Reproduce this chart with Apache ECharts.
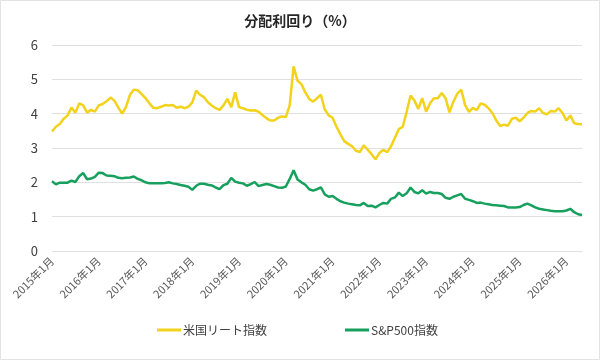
<!DOCTYPE html>
<html>
<head>
<meta charset="utf-8">
<title>分配利回り</title>
<script src="https://cdn.jsdelivr.net/npm/echarts@6/dist/echarts.min.js"></script>
<style>
  html, body { margin: 0; padding: 0; background: #fff; }
  #chart { width: 600px; height: 360px; }
</style>
</head>
<body>
<div id="chart"></div>
<script>
// monthly, 2015年1月 .. 2026年5月
const startYear = 2015
const monthCount = 137
const seriesNames = ['米国リート指数', 'S&P500指数']
const yTicks = [0, 1, 2, 3, 4, 5, 6]

// 米国リート指数 分配利回り (%)
const reitYield = [
  3.48, 3.62, 3.7, 3.85, 3.95, 4.18, 4.03, 4.3, 4.24, 4.03, 4.11, 4.06, // 2015
  4.24, 4.28, 4.36, 4.47, 4.38, 4.18, 4.0, 4.2, 4.55, 4.7, 4.68, 4.57, // 2016
  4.45, 4.3, 4.17, 4.16, 4.2, 4.25, 4.24, 4.25, 4.17, 4.2, 4.16, 4.2, // 2017
  4.33, 4.67, 4.55, 4.48, 4.33, 4.24, 4.16, 4.11, 4.24, 4.43, 4.19, 4.62, // 2018
  4.19, 4.16, 4.11, 4.09, 4.1, 4.06, 3.96, 3.87, 3.8, 3.8, 3.88, 3.92, // 2019
  3.9, 4.25, 5.38, 4.96, 4.86, 4.62, 4.43, 4.35, 4.45, 4.55, 4.12, 3.95, // 2020
  3.88, 3.62, 3.4, 3.2, 3.12, 3.05, 2.92, 2.88, 3.08, 2.95, 2.82, 2.67, // 2021
  2.85, 2.95, 2.88, 3.05, 3.3, 3.55, 3.62, 4.05, 4.53, 4.38, 4.14, 4.45, // 2022
  4.06, 4.3, 4.45, 4.45, 4.6, 4.45, 4.04, 4.35, 4.58, 4.7, 4.25, 4.05, // 2023
  4.17, 4.1, 4.3, 4.26, 4.16, 4.02, 3.8, 3.64, 3.68, 3.65, 3.85, 3.88, // 2024
  3.78, 3.88, 4.02, 4.08, 4.06, 4.16, 4.02, 3.98, 4.08, 4.06, 4.16, 4.02, // 2025
  3.8, 3.95, 3.72, 3.7, 3.69 // 2026
]

// S&P500指数 配当利回り (%)
const spYield = [
  2.03, 1.94, 1.99, 1.99, 1.99, 2.05, 2.01, 2.18, 2.27, 2.09, 2.11, 2.16, // 2015
  2.28, 2.27, 2.2, 2.19, 2.18, 2.13, 2.12, 2.13, 2.14, 2.17, 2.1, 2.06, // 2016
  2.0, 1.97, 1.97, 1.97, 1.97, 1.98, 2.0, 1.97, 1.95, 1.92, 1.9, 1.87, // 2017
  1.78, 1.9, 1.96, 1.96, 1.93, 1.91, 1.85, 1.8, 1.92, 1.96, 2.13, 2.02, // 2018
  1.99, 1.97, 1.9, 1.95, 2.01, 1.89, 1.92, 1.95, 1.93, 1.89, 1.85, 1.84, // 2019
  1.88, 2.1, 2.35, 2.08, 2.0, 1.93, 1.8, 1.76, 1.8, 1.85, 1.65, 1.58, // 2020
  1.6, 1.52, 1.45, 1.41, 1.38, 1.36, 1.34, 1.33, 1.4, 1.31, 1.32, 1.27, // 2021
  1.34, 1.4, 1.38, 1.52, 1.56, 1.7, 1.6, 1.68, 1.85, 1.72, 1.68, 1.77, // 2022
  1.67, 1.72, 1.69, 1.69, 1.66, 1.55, 1.52, 1.58, 1.62, 1.66, 1.52, 1.49, // 2023
  1.45, 1.4, 1.41, 1.38, 1.36, 1.34, 1.33, 1.32, 1.31, 1.27, 1.27, 1.27, // 2024
  1.28, 1.34, 1.38, 1.33, 1.27, 1.23, 1.21, 1.19, 1.17, 1.16, 1.16, 1.16, // 2025
  1.18, 1.23, 1.13, 1.07, 1.05 // 2026
]

// category labels: 2015年1月, 2015年2月, ...
const months = []
for (let i = 0; i < monthCount; i++) {
  months.push((startYear + Math.floor(i / 12)) + '年' + (i % 12 + 1) + '月')
}

const fontFamily = '"Noto Sans CJK JP", "Noto Sans", sans-serif'
const chart = echarts.init(document.getElementById('chart'))

chart.setOption({
  backgroundColor: '#fff',
  animation: false,
  textStyle: { fontFamily: fontFamily },
  title: {
    text: '分配利回り（%）',
    left: 'center',
    top: 9,
    textStyle: {
      fontSize: 14,
      fontWeight: 'bold',
      color: '#262626',
      fontFamily: fontFamily
    }
  },
  // thin frame round the picture
  graphic: [{
    type: 'rect',
    shape: { x: 0.5, y: 0.5, width: 599, height: 359 },
    style: { fill: 'none', stroke: '#e3e3e3', lineWidth: 1 },
    silent: true
  }],
  grid: {
    left: 52,
    right: 18,
    top: 45,
    bottom: 109
  },
  legend: {
    data: seriesNames,
    left: 152,
    top: 319,
    icon: 'rect',
    itemWidth: 24,
    itemHeight: 3,
    itemGap: 78,
    textStyle: { fontSize: 12, color: '#404040', padding: [0, 0, 0, -3] }
  },
  xAxis: {
    type: 'category',
    data: months,
    boundaryGap: false,
    axisLine: { show: false },
    axisTick: { show: false },
    splitLine: { show: false },
    axisLabel: {
      rotate: 45,
      margin: 8,
      fontSize: 11,
      color: '#595959',
      interval: function (idx) { return idx % 12 === 0 }
    }
  },
  yAxis: {
    type: 'value',
    min: yTicks[0],
    max: yTicks[yTicks.length - 1],
    interval: 1,
    axisLine: { show: false },
    axisTick: { show: false },
    axisLabel: { fontSize: 13, color: '#404040', margin: 14 },
    splitLine: { lineStyle: { color: '#e0e0e0', width: 1 } }
  },
  series: [
    {
      name: seriesNames[0],
      type: 'line',
      data: reitYield,
      showSymbol: false,
      symbol: 'none',
      color: '#F2D21A',
      lineStyle: { width: 2.5, color: '#F2D21A' }
    },
    {
      name: seriesNames[1],
      type: 'line',
      data: spYield,
      showSymbol: false,
      symbol: 'none',
      color: '#17A05D',
      lineStyle: { width: 2.5, color: '#17A05D' }
    }
  ]
})
</script>
</body>
</html>
